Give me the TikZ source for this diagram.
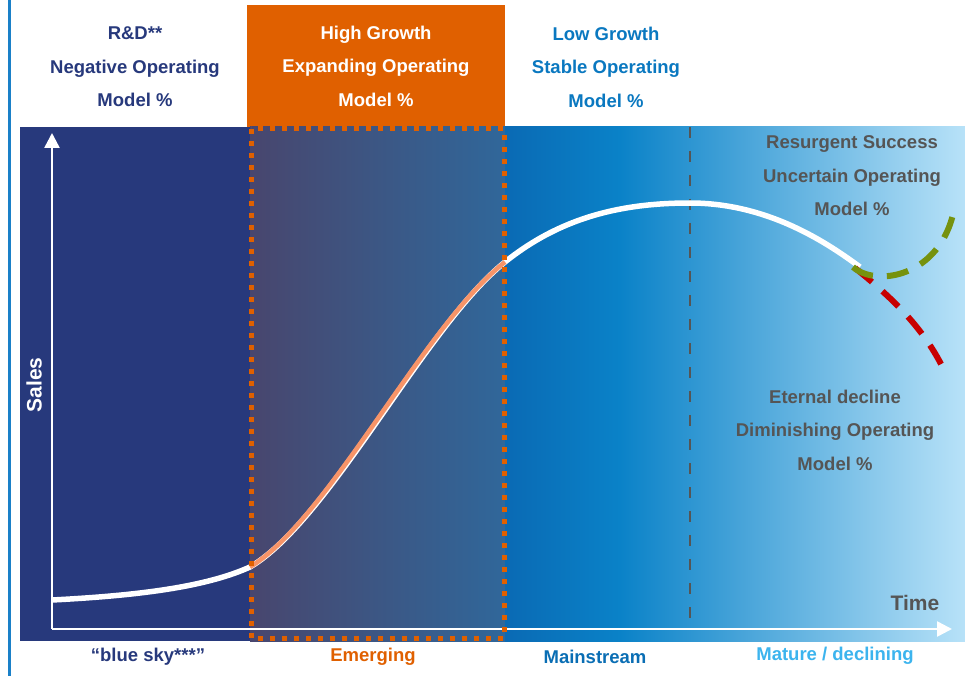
\documentclass[tikz,border=0pt]{standalone}
\usepackage{fontspec}
\setmainfont{Liberation Sans}
\usetikzlibrary{arrows.meta}
\definecolor{navy}{HTML}{27397C}
\definecolor{edgeblue}{HTML}{1A80C8}
\definecolor{boxorange}{HTML}{E06000}
\definecolor{midL}{HTML}{48466E}
\definecolor{midR}{HTML}{30679A}
\definecolor{blueA}{HTML}{0A6AB4}
\definecolor{blueB}{HTML}{0A82C8}
\definecolor{blueC}{HTML}{B8E2F8}
\definecolor{salmon}{HTML}{F79468}
\definecolor{darkgrey}{HTML}{555555}
\definecolor{lowblue}{HTML}{0A78C0}
\definecolor{mainblue}{HTML}{0A6EB4}
\definecolor{lightblue}{HTML}{3CB4EE}
\definecolor{olive}{HTML}{76920E}
\definecolor{crimson}{HTML}{C80000}
\begin{document}
\begin{tikzpicture}[x=1pt,y=-1pt]
  \tikzstyle{label}=[font=\bfseries\fontsize{18.5}{33.5}\selectfont,align=center,inner sep=0pt]
  \tikzstyle{axislabel}=[font=\bfseries\fontsize{21}{24}\selectfont,inner sep=0pt]
  \tikzstyle{axis}=[draw=white,line width=2.5pt,-{Triangle[width=15pt,length=15pt]}]
  \tikzstyle{scenario}=[line width=6pt,dash pattern=on 22pt off 14pt]
  \useasboundingbox (0,0) rectangle (965,676);
  \fill[white] (0,0) rectangle (965,676);
  \draw[edgeblue,line width=3pt] (9,0) -- (9,676);
  % header box and background bands
  \fill[boxorange] (247,5) rectangle (505,127);
  \fill[navy] (20,127) rectangle (250,641);
  \shade[left color=midL,right color=midR] (250,127) rectangle (505,641);
  \shade[left color=blueA,right color=blueB] (505,127) rectangle (620,641);
  \shade[left color=blueB,right color=blueC] (620,127) rectangle (965,641);
  \draw[darkgrey,line width=2.5pt,dash pattern=on 11pt off 13pt] (690,127) -- (690,626);
  % axes
  \coordinate (origin) at (52,629);
  \coordinate (ytip) at (52,133);
  \coordinate (xtip) at (952,629);
  \draw[axis] (origin) -- (ytip);
  \draw[axis] (origin) -- (xtip);
  % sales curve
  \coordinate (start) at (52,600);
  \coordinate (emerge) at (250,567);
  \coordinate (mainstream) at (505,262);
  \coordinate (peak) at (690,203);
  \coordinate (fork) at (860,267);
  \draw[white,line width=5.5pt] (start) .. controls (150,595) and (210,585) .. (emerge)
    .. controls (330,520) and (425,326) .. (mainstream)
    .. controls (560,218) and (620,203) .. (peak)
    .. controls (770,203) and (830,245) .. (fork);
  \draw[salmon,line width=4.5pt,shift={(-1,-1)}] (emerge) .. controls (330,520) and (425,326) .. (mainstream);
  \draw[boxorange,line width=5pt,dash pattern=on 5pt off 7pt] (251,129) rectangle (504,638);
  % scenarios
  \draw[crimson,scenario] (855,268) .. controls (895,300) and (925,330) .. (945,372);
  \draw[olive,scenario] (853,267) .. controls (875,287) and (940,278) .. (954,210);
  % labels
  \node[label,navy] (rnd) at (135,67) {R\&D**\\Negative Operating\\Model \%};
  \node[label,white] (growth) at (376,66) {High Growth\\Expanding Operating\\Model \%};
  \node[label,lowblue] (stable) at (606,67) {Low Growth\\Stable Operating\\Model \%};
  \node[label,darkgrey] (resurgent) at (852,176) {Resurgent Success\\Uncertain Operating\\Model \%};
  \node[label,darkgrey] (decline) at (835,430) {Eternal decline\\Diminishing Operating\\Model \%};
  \node[label,navy] (bluesky) at (148,657) {“blue sky***”};
  \node[label,boxorange] (emerging) at (373,657) {Emerging};
  \node[label,mainblue] (mainlbl) at (595,657) {Mainstream};
  \node[label,lightblue] (mature) at (835,656) {Mature / declining};
  \node[axislabel,darkgrey] (time) at (915,603) {Time};
  \node[axislabel,white,rotate=90] (sales) at (34,385) {Sales};
\end{tikzpicture}
\end{document}
